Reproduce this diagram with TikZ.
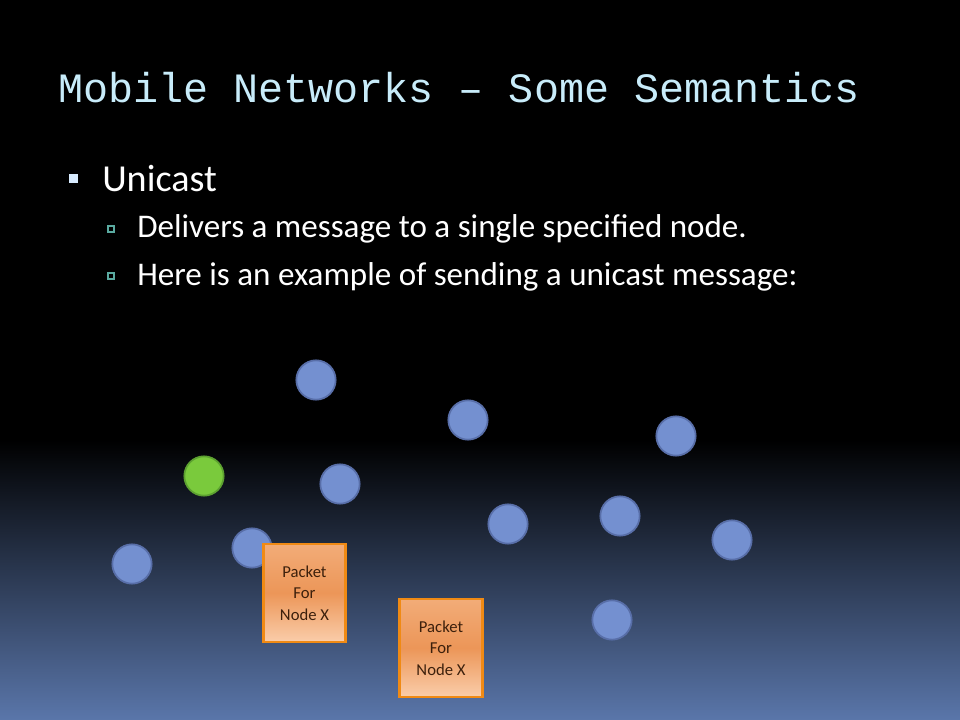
\documentclass[tikz,border=0pt]{standalone}
\usepackage{fontspec}
\setmainfont{Carlito}
\newfontfamily\titlefont{Liberation Mono}
\definecolor{titlecol}{RGB}{200,236,250}
\definecolor{bulletcol}{RGB}{215,235,255}
\definecolor{subbulletcol}{RGB}{90,170,160}
\definecolor{bgbottom}{RGB}{90,118,170}
\definecolor{nodefill}{RGB}{116,144,208}
\definecolor{nodedraw}{RGB}{88,110,168}
\definecolor{greenfill}{RGB}{122,202,60}
\definecolor{greendraw}{RGB}{92,160,48}
\definecolor{pktdraw}{RGB}{240,138,20}
\definecolor{pkttop}{RGB}{242,172,120}
\definecolor{pktmid}{RGB}{236,150,88}
\definecolor{pktbot}{RGB}{250,205,170}
\definecolor{pkttext}{RGB}{60,32,12}
\tikzset{
  netnode/.style={circle, minimum size=29.5pt, inner sep=0pt, fill=nodefill, draw=nodedraw, line width=1.3pt},
  srcnode/.style={circle, minimum size=29.5pt, inner sep=0pt, fill=greenfill, draw=greendraw, line width=1.3pt},
  packet/.style={rectangle, minimum width=62pt, minimum height=73.5pt, inner sep=0pt, draw=pktdraw, line width=2.2pt,
    top color=pkttop, bottom color=pktbot, middle color=pktmid, text=pkttext, align=center,
    font=\fontsize{12.5}{16}\selectfont},
  titletext/.style={anchor=base west, inner sep=0pt, text=titlecol, font=\titlefont\fontsize{31.3}{36}\selectfont},
  lvlone/.style={anchor=base west, inner sep=0pt, text=white, font=\fontsize{28.6}{32}\selectfont},
  lvltwo/.style={anchor=base west, inner sep=0pt, text=white, font=\fontsize{24.8}{28}\selectfont},
}
\begin{document}
\begin{tikzpicture}[x=0.75pt,y=-0.75pt]
\useasboundingbox (0,0) rectangle (960,720);
\fill[black] (0,0) rectangle (960,720);
\shade[top color=black, bottom color=bgbottom] (0,440) rectangle (960,720);
% title
\node[titletext] (title) at (58,103) {Mobile Networks – Some Semantics};
% bullets
\fill[bulletcol] (69,174) rectangle (78,183);
\node[lvlone] (b1) at (102,192) {Unicast};
\draw[subbulletcol, line width=0.8pt] (108,226) rectangle (114,232);
\node[lvltwo] (b2) at (137,238) {Delivers a message to a single specified node.};
\draw[subbulletcol, line width=0.8pt] (108,273) rectangle (114,279);
\node[lvltwo] (b3) at (137,286) {Here is an example of sending a unicast message:};
% network nodes
\node[netnode] (n1) at (316,380) {};
\node[netnode] (n2) at (468,420) {};
\node[netnode] (n3) at (676,436) {};
\node[srcnode] (src) at (204,476) {};
\node[netnode] (n4) at (340,484) {};
\node[netnode] (n5) at (508,524) {};
\node[netnode] (n6) at (620,516) {};
\node[netnode] (n7) at (732,540) {};
\node[netnode] (n8) at (252,548) {};
\node[netnode] (n9) at (132,564) {};
\node[netnode] (n10) at (612,620) {};
% packets
\node[packet] (p1) at (304.5,593) {Packet\\For\\Node X};
\node[packet] (p2) at (441,648) {Packet\\For\\Node X};
\end{tikzpicture}
\end{document}
